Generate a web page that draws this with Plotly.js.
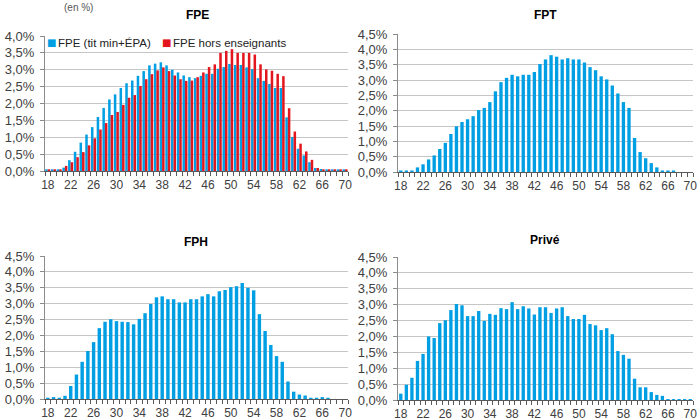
<!DOCTYPE html>
<html>
<head>
<meta charset="utf-8">
<script src="https://cdn.plot.ly/plotly-3.0.1.min.js"></script>
<style>html,body{margin:0;padding:0;background:#fff;}#chart{width:700px;height:420px;}</style>
</head>
<body>
<div id="chart"></div>
<script>
const ages = [18,19,20,21,22,23,24,25,26,27,28,29,30,31,32,33,34,35,36,37,38,39,40,41,42,43,44,45,46,47,48,49,50,51,52,53,54,55,56,57,58,59,60,61,62,63,64,65,66,67,68,69,70];

const fpeTit = [0.05,0.05,0.05,0.10,0.32,0.57,0.84,1.08,1.30,1.60,1.87,2.12,2.27,2.46,2.60,2.68,2.82,2.96,3.13,3.18,3.22,3.13,3.00,2.92,2.83,2.78,2.75,2.82,2.88,2.88,3.03,3.08,3.17,3.14,3.14,3.07,3.02,2.75,2.67,2.58,2.46,2.46,1.59,1.01,0.66,0.46,0.26,0.09,0.06,0.05,0.05,0.05,0.05];
const fpeHors = [0.05,0.05,0.05,0.15,0.26,0.41,0.56,0.76,0.97,1.23,1.42,1.66,1.75,1.96,2.17,2.25,2.52,2.72,2.87,2.98,3.07,2.96,2.83,2.72,2.67,2.68,2.78,2.92,3.08,3.16,3.50,3.56,3.61,3.50,3.50,3.50,3.45,3.16,3.01,2.97,2.88,2.81,1.86,1.17,0.81,0.58,0.33,0.09,0.05,0.05,0.05,0.05,0.05];
const fpt = [0.05,0.05,0.05,0.15,0.25,0.41,0.54,0.75,0.95,1.24,1.49,1.63,1.72,1.82,2.02,2.09,2.28,2.63,2.93,3.07,3.17,3.12,3.17,3.17,3.26,3.52,3.67,3.81,3.76,3.67,3.71,3.67,3.67,3.57,3.42,3.32,3.12,3.02,2.82,2.56,2.28,2.09,1.11,0.65,0.45,0.29,0.15,0.05,0.05,0.05,0,0,0];
const fph = [0.04,0.06,0.04,0.10,0.41,0.77,1.17,1.51,1.79,2.23,2.43,2.51,2.45,2.43,2.42,2.35,2.52,2.70,2.99,3.20,3.23,3.14,3.14,3.04,3.04,3.14,3.14,3.23,3.30,3.23,3.39,3.43,3.52,3.55,3.65,3.50,3.42,2.67,2.14,1.70,1.35,1.17,0.55,0.23,0.14,0.11,0.04,0.04,0.06,0.04,0,0,0];
const prive = [0.20,0.48,0.70,1.23,1.45,2.00,1.95,2.42,2.51,2.83,3.02,2.98,2.64,2.64,2.80,2.49,2.71,2.68,2.89,2.86,3.08,2.86,2.95,2.88,2.69,2.92,2.92,2.74,2.88,2.92,2.64,2.55,2.55,2.68,2.39,2.35,2.20,2.26,2.07,1.54,1.42,1.30,0.67,0.40,0.40,0.25,0.16,0.13,0.03,0.03,0.03,0.03,0.03];

const seriesNames = ["FPE (tit min+ÉPA)", "FPE hors enseignants"];
const panelTitles = ["FPE", "FPT", "FPH", "Privé"];

const BLUE = '#009FE3';
const RED = '#E3161E';

const traces = [
  {type:'bar', x:ages, y:fpeTit, name:seriesNames[0], marker:{color:BLUE}, width:0.44, offset:-0.46, xaxis:'x', yaxis:'y'},
  {type:'bar', x:ages, y:fpeHors, name:seriesNames[1], marker:{color:RED}, width:0.44, offset:-0.02, xaxis:'x', yaxis:'y'},
  {type:'bar', x:ages, y:fpt, name:'FPT', marker:{color:BLUE}, width:0.6, xaxis:'x2', yaxis:'y2'},
  {type:'bar', x:ages, y:fph, name:'FPH', marker:{color:BLUE}, width:0.6, xaxis:'x3', yaxis:'y3'},
  {type:'bar', x:ages, y:prive, name:'Privé', marker:{color:BLUE}, width:0.6, xaxis:'x4', yaxis:'y4'}
];

const FONT = 'Liberation Sans, Arial, sans-serif';
const xTickFont = {family:FONT, size:12, color:'#404040'};
const yTickFont = {family:FONT, size:13, color:'#404040'};

function xax(domain, anchor){
  return {domain:domain, anchor:anchor, type:'linear', range:[17.5,70.5], tick0:18, dtick:4,
    ticks:'', showgrid:false, zeroline:false, showline:true, linecolor:'#595959', linewidth:1,
    tickfont:xTickFont, ticklabelstandoff:3, fixedrange:true,
    minor:{tick0:17.5, dtick:1, ticks:'outside', ticklen:4, tickcolor:'#595959', tickwidth:1, showgrid:false}};
}
function yax(domain, anchor, top){
  return {domain:domain, anchor:anchor, range:[0,top], tick0:0, dtick:0.5, tickformat:'.1f', ticksuffix:'%',
    showgrid:true, gridcolor:'#c6c6c6', gridwidth:1, zeroline:false, showline:true, linecolor:'#8c8c8c',
    ticks:'outside', ticklen:4, tickcolor:'#8c8c8c', tickfont:yTickFont, ticklabelstandoff:3, fixedrange:true};
}

const LX = [45/700, 348/700];
const RX = [398/700, 693/700];

const titleFont = {family:'Liberation Sans Narrow, Arial Narrow, Liberation Sans, Arial', size:12, color:'#000', weight:'bold'};
const legFont = {family:FONT, size:11.5, color:'#222'};

function py(p){ return 1 - p/420; }
function px(p){ return p/700; }

const layout = {
  width:700, height:420,
  margin:{l:0, r:0, t:0, b:0},
  paper_bgcolor:'#fff', plot_bgcolor:'#fff',
  separators:',.',
  barmode:'overlay',
  showlegend:false,
  xaxis: xax(LX, 'y'),
  yaxis: yax([py(171), py(36)], 'x', 4.0),
  xaxis2: xax(RX, 'y2'),
  yaxis2: yax([py(172), py(34)], 'x2', 4.5),
  xaxis3: xax(LX, 'y3'),
  yaxis3: yax([py(399), py(256)], 'x3', 4.5),
  xaxis4: xax(RX, 'y4'),
  yaxis4: yax([py(400), py(257)], 'x4', 4.5),
  annotations:[
    {text:panelTitles[0], xref:'paper', yref:'paper', x:px(197), y:py(15), xanchor:'center', yanchor:'middle', showarrow:false, font:titleFont},
    {text:panelTitles[1], xref:'paper', yref:'paper', x:px(545), y:py(15), xanchor:'center', yanchor:'middle', showarrow:false, font:titleFont},
    {text:panelTitles[2], xref:'paper', yref:'paper', x:px(196), y:py(242), xanchor:'center', yanchor:'middle', showarrow:false, font:titleFont},
    {text:panelTitles[3], xref:'paper', yref:'paper', x:px(545), y:py(240), xanchor:'center', yanchor:'middle', showarrow:false, font:titleFont},
    {text:'(en %)', xref:'paper', yref:'paper', x:px(78), y:1, xanchor:'center', yanchor:'top', showarrow:false, font:{family:FONT, size:10, color:'#555'}},
    {text:'■', xref:'paper', yref:'paper', x:px(51), y:py(43), xanchor:'center', yanchor:'middle', showarrow:false, font:{family:'DejaVu Sans', size:10, color:BLUE}},
    {text:seriesNames[0], xref:'paper', yref:'paper', x:px(56), y:py(43), xanchor:'left', yanchor:'middle', showarrow:false, font:legFont},
    {text:'■', xref:'paper', yref:'paper', x:px(166), y:py(43), xanchor:'center', yanchor:'middle', showarrow:false, font:{family:'DejaVu Sans', size:10, color:RED}},
    {text:seriesNames[1], xref:'paper', yref:'paper', x:px(171), y:py(43), xanchor:'left', yanchor:'middle', showarrow:false, font:legFont}
  ]
};

Plotly.newPlot('chart', traces, layout, {staticPlot:true, displayModeBar:false});
</script>
</body>
</html>
